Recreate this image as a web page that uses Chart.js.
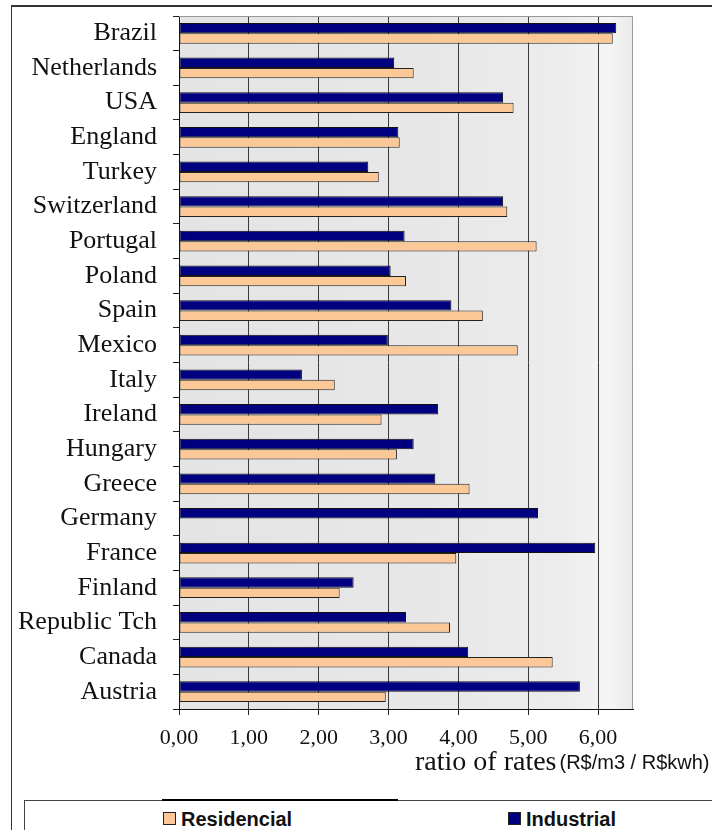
<!DOCTYPE html>
<html>
<head>
<meta charset="utf-8">
<script src="https://cdn.jsdelivr.net/npm/chart.js@4"></script>
<style>
    body { margin: 0; background: #fff; width: 712px; height: 830px; overflow: hidden; position: relative; }
    #frameTop { position: absolute; left: 11px; top: 5px; width: 701px; height: 2px; background: #333; }
    #frameLeft { position: absolute; left: 11px; top: 5px; width: 1px; height: 825px; background: #333; }
    #chartBox { position: absolute; left: 0; top: 0; }
    #legendBox { position: absolute; left: 24px; top: 800px; width: 688px; height: 40px; border-top: 1px solid #444; border-left: 1px solid #444; }
    #legendThick { position: absolute; left: 162px; top: 799px; width: 236px; height: 2px; background: #000; }
    .lgItem { position: absolute; top: 8px; font: bold 20px "Liberation Sans", Arial, sans-serif; color: #111; white-space: nowrap; line-height: 20px; }
    .lgBox { display: inline-block; width: 11px; height: 11px; border: 1px solid #222; margin-right: 5px; vertical-align: 1px; }
</style>
</head>
<body>
<div id="frameTop"></div>
<div id="frameLeft"></div>
<canvas id="chartBox" width="712" height="790"></canvas>
<div id="legendBox"></div>
<div id="legendThick"></div>
<script>
// categories (top to bottom)
var categories = ['Brazil', 'Netherlands', 'USA', 'England', 'Turkey', 'Switzerland', 'Portugal', 'Poland', 'Spain', 'Mexico',
    'Italy', 'Ireland', 'Hungary', 'Greece', 'Germany', 'France', 'Finland', 'Republic Tch', 'Canada', 'Austria'];

// ratio of rates (R$/m3 / R$kwh)
var industrial = [6.26, 3.08, 4.64, 3.14, 2.71, 4.64, 3.23, 3.03, 3.90, 2.99,
    1.76, 3.71, 3.36, 3.67, 5.14, 5.96, 2.50, 3.25, 4.14, 5.74];
var residencial = [6.21, 3.36, 4.79, 3.16, 2.86, 4.70, 5.12, 3.25, 4.35, 4.85,
    2.23, 2.90, 3.12, 4.16, null, 3.97, 2.30, 3.88, 5.35, 2.96];

// x axis ticks
var xTicks = [0, 1, 2, 3, 4, 5, 6];
var xMax = 6.5;

var colInd = '#000080';
var colRes = '#fcc898';
var serif = '"Liberation Serif", "Times New Roman", serif';
var sans = '"Liberation Sans", Arial, sans-serif';

// plot background, frame and axis title
var decoPlugin = {
    id: 'deco',
    beforeDatasetsDraw: function(chart) {
        var a = chart.chartArea, ctx = chart.ctx;
        ctx.save();
        var g = ctx.createLinearGradient(a.left, 0, a.right, 0);
        g.addColorStop(0, '#e4e4e4');
        g.addColorStop(0.5, '#e7e7e7');
        g.addColorStop(0.85, '#ececec');
        g.addColorStop(0.95, '#f5f5f5');
        g.addColorStop(1, '#e9e9e9');
        ctx.globalCompositeOperation = 'destination-over';
        ctx.fillStyle = g;
        ctx.fillRect(a.left, a.top, a.right - a.left, a.bottom - a.top);
        ctx.restore();
    },
    afterDraw: function(chart) {
        var a = chart.chartArea, ctx = chart.ctx;
        ctx.save();
        // top / right frame of the plot
        ctx.strokeStyle = '#9a9a9a';
        ctx.lineWidth = 1;
        ctx.beginPath();
        ctx.moveTo(a.left, a.top + 0.5);
        ctx.lineTo(a.right - 0.5, a.top + 0.5);
        ctx.lineTo(a.right - 0.5, a.bottom);
        ctx.stroke();
        // axis title in two fonts
        var t1 = 'ratio of rates', t2 = '(R$/m3 / R$kwh)';
        ctx.fillStyle = '#111';
        ctx.textBaseline = 'alphabetic';
        ctx.font = '28px ' + serif;
        var x = a.left + 236, y = a.bottom + 61;
        ctx.fillText(t1, x, y);
        var w = ctx.measureText(t1).width;
        ctx.font = '20px ' + sans;
        ctx.fillText(t2, x + w + 3, y - 1);
        ctx.restore();
    }
};

var ctx = document.getElementById('chartBox').getContext('2d');
var chart = new Chart(ctx, {
    type: 'bar',
    data: {
        labels: categories,
        datasets: [
            { label: 'Industrial', data: industrial, backgroundColor: colInd, borderColor: '#111', borderWidth: 1, borderSkipped: false },
            { label: 'Residencial', data: residencial, backgroundColor: colRes, borderColor: '#222', borderWidth: 1, borderSkipped: false }
        ]
    },
    options: {
        indexAxis: 'y',
        responsive: false,
        animation: false,
        categoryPercentage: 0.6,
        barPercentage: 1.0,
        layout: { padding: { top: 16, right: 79, left: 0, bottom: 0 } },
        plugins: {
            legend: { display: false },
            tooltip: { enabled: false }
        },
        scales: {
            x: {
                type: 'linear',
                min: 0,
                max: xMax,
                afterFit: function(s) { s.height = 81; },
                afterBuildTicks: function(s) { s.ticks = xTicks.map(function(v) { return { value: v }; }); },
                ticks: {
                    includeBounds: false,
                    padding: 10,
                    color: '#111',
                    font: { family: serif, size: 22 },
                    callback: function(v) { return Number(v).toFixed(2).replace('.', ','); }
                },
                grid: { color: '#3a3a3a', lineWidth: 1, tickLength: 6, tickColor: '#222' },
                border: { color: '#111', width: 1 }
            },
            y: {
                // fixed width, and no extra room for label overflow
                afterFit: function(s) { s.width = 179; s.paddingTop = 0; s.paddingBottom = 0; },
                ticks: {
                    autoSkip: false,
                    padding: 16,
                    color: '#111',
                    font: { family: serif, size: 26 }
                },
                grid: { offset: true, drawOnChartArea: false, tickLength: 6, tickColor: '#222' },
                border: { color: '#111', width: 1 }
            }
        }
    },
    plugins: [decoPlugin]
});

// legend (Residencial first, like the original)
var legendPos = { 'Residencial': 138, 'Industrial': 483 };
var box = document.getElementById('legendBox');
[1, 0].forEach(function(i) {
    var ds = chart.data.datasets[i];
    var item = document.createElement('div');
    item.className = 'lgItem';
    item.style.left = legendPos[ds.label] + 'px';
    item.innerHTML = '<span class="lgBox" style="background:' + ds.backgroundColor + '"></span>' + ds.label;
    box.appendChild(item);
});
</script>
</body>
</html>
